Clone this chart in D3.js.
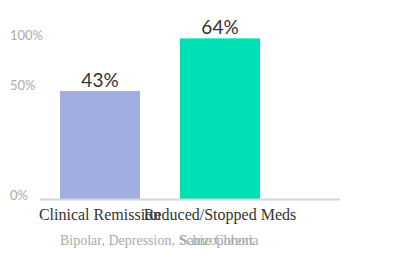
<!DOCTYPE html>
<html><head><meta charset="utf-8">
<script src="https://cdn.jsdelivr.net/npm/d3@7"></script>
<style>body{margin:0;background:#fff}</style>
</head><body>
<script>
const categories = ["Clinical Remission", "Reduced/Stopped Meds"];
const values = [0.43, 0.64];
const valueLabels = ["43%", "64%"];
const subtitles = ["Bipolar, Depression, Schizophrenia", "Same Cohort"];
const tickValues = [0, 0.5, 1];
const tickLabels = ["0%", "50%", "100%"];
const colors = ["#a3aee0", "#00e0b4"];

const W = 420, H = 260;
const svg = d3.select("body").append("svg").attr("width", W).attr("height", H);

const x = d3.scaleBand().domain(categories).range([40, 280]).paddingInner(1/3).paddingOuter(1/6);
const y = d3.scaleLinear().domain([0, 1]).range([199, -52]);
const tickY = d3.scaleLinear().domain([0, 0.5, 1]).range([200, 90, 40]);

svg.append("g").selectAll("text").data(tickValues).join("text")
  .attr("x", 10).attr("y", d => tickY(d))
  .attr("font-family", "Lato, sans-serif").attr("font-size", 13).attr("fill", "#aaa")
  .text((d, i) => tickLabels[i]);

svg.append("g").selectAll("rect").data(values).join("rect")
  .attr("x", (d, i) => x(categories[i])).attr("width", x.bandwidth())
  .attr("y", d => y(d)).attr("height", d => y(0) - y(d))
  .attr("fill", (d, i) => colors[i]);

svg.append("line").attr("x1", 40).attr("x2", 340).attr("y1", 199.5).attr("y2", 199.5)
  .attr("stroke", "#d3d7db").attr("stroke-width", 2);

svg.append("g").selectAll("text").data(values).join("text")
  .attr("x", (d, i) => x(categories[i]) + x.bandwidth() / 2).attr("y", d => y(d) - 4)
  .attr("text-anchor", "middle").attr("font-family", "Lato, sans-serif").attr("font-size", 19).attr("fill", "#333")
  .text((d, i) => valueLabels[i]);

svg.append("g").selectAll("text").data(categories).join("text")
  .attr("x", d => x(d) + x.bandwidth() / 2).attr("y", 220)
  .attr("text-anchor", "middle").attr("font-family", "'Liberation Serif', serif").attr("font-size", 16).attr("fill", "#333")
  .text(d => d);

svg.append("g").selectAll("text").data(subtitles).join("text")
  .attr("x", (d, i) => x(categories[i])).attr("y", 245)
  .attr("font-family", "'Liberation Serif', serif").attr("font-size", 14).attr("fill", "#aaa")
  .text(d => d);
</script>
</body></html>
